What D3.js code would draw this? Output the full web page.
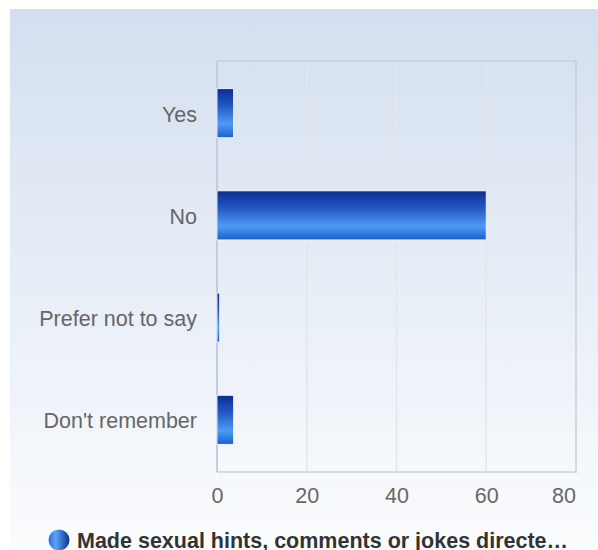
<!DOCTYPE html>
<html><head><meta charset="utf-8">
<script src="https://cdn.jsdelivr.net/npm/d3@7"></script>
<style>html,body{margin:0;padding:0;background:#fff;}svg{display:block;}</style>
</head><body>
<svg id="c" width="598" height="550"></svg>
<script>
const categories = ["Yes", "No", "Prefer not to say", "Don't remember"];
const values = [3.7, 60, 0.6, 3.7];
const xTicks = [0, 20, 40, 60, 80];
const seriesName = "Made sexual hints, comments or jokes directe\u2026";

const svg = d3.select("#c");
const defs = svg.append("defs");
const bg = defs.append("linearGradient").attr("id","bg").attr("x1",0).attr("y1",0).attr("x2",0).attr("y2",1);
bg.append("stop").attr("offset","0%").attr("stop-color","#d3dfef");
bg.append("stop").attr("offset","100%").attr("stop-color","#fbfcfe");
const bar = defs.append("linearGradient").attr("id","bar").attr("x1",0).attr("y1",0).attr("x2",0).attr("y2",1);
[["0%","#0b2d8f"],["35%","#2457c4"],["72%","#4c9cf6"],["100%","#1b5fcc"]].forEach(s=>bar.append("stop").attr("offset",s[0]).attr("stop-color",s[1]));
const leg = defs.append("linearGradient").attr("id","leg").attr("x1",0).attr("y1",0).attr("x2",1).attr("y2",0);
[["0%","#2c6fe0"],["35%","#5aa4f6"],["100%","#0d2f90"]].forEach(s=>leg.append("stop").attr("offset",s[0]).attr("stop-color",s[1]));

svg.append("rect").attr("x",10).attr("y",9).attr("width",588).attr("height",541).attr("fill","url(#bg)");

const m = {left:217, right:576, top:61, bottom:472};
const x = d3.scaleLinear().domain([0,80]).range([m.left, m.right]);
const y = d3.scaleBand().domain(categories).range([m.top, m.bottom]).paddingInner(0.52).paddingOuter(0.27);
const FONT = "Liberation Sans, Arial, sans-serif";

// gridlines
svg.append("g").selectAll("line").data(xTicks.slice(1,-1)).join("line")
  .attr("x1",d=>x(d)).attr("x2",d=>x(d)).attr("y1",m.top).attr("y2",m.bottom)
  .attr("stroke","#e2e5ea").attr("stroke-width",1.5);

// frame
svg.append("path").attr("d",`M${m.left},${m.top}H${m.right}V${m.bottom}H${m.left}`)
  .attr("fill","none").attr("stroke","#cbced4").attr("stroke-width",1.5);
svg.append("line").attr("x1",m.left).attr("x2",m.left).attr("y1",m.top).attr("y2",m.bottom)
  .attr("stroke","#c3cde0").attr("stroke-width",2);

// bars
svg.append("g").selectAll("rect").data(values).join("rect")
  .attr("x",x(0)).attr("y",(d,i)=>y(categories[i]))
  .attr("width",d=>x(d)-x(0)).attr("height",y.bandwidth())
  .attr("fill","url(#bar)").attr("stroke","#ffffff").attr("stroke-width",1).attr("stroke-opacity",0.85);

// axes
const xAxis = svg.append("g").attr("transform",`translate(0,${m.bottom})`)
  .call(d3.axisBottom(x).tickValues(xTicks).tickSize(0).tickPadding(16));
xAxis.select(".domain").remove();
xAxis.selectAll("text").attr("font-family",FONT).attr("font-size",21.5).attr("fill","#666");
xAxis.selectAll(".tick").filter(d=>d===xTicks[xTicks.length-1]).select("text")
  .attr("text-anchor","end").attr("dx",0).attr("x",0);
xAxis.selectAll(".tick").filter(d=>d===xTicks[xTicks.length-1])
  .attr("transform",`translate(${m.right},0)`);

const yAxis = svg.append("g").attr("transform",`translate(${m.left},0)`)
  .call(d3.axisLeft(y).tickSize(0).tickPadding(20));
yAxis.select(".domain").remove();
yAxis.selectAll("text").attr("font-family",FONT).attr("font-size",21.5).attr("fill","#666").attr("dy","0.4em");

// legend
svg.append("circle").attr("cx",59).attr("cy",540).attr("r",10.5).attr("fill","url(#leg)");
svg.append("text").attr("x",77).attr("y",548).text(seriesName)
  .attr("font-family",FONT).attr("font-size",21.5).attr("font-weight","bold").attr("fill","#333");
</script>
</body></html>
